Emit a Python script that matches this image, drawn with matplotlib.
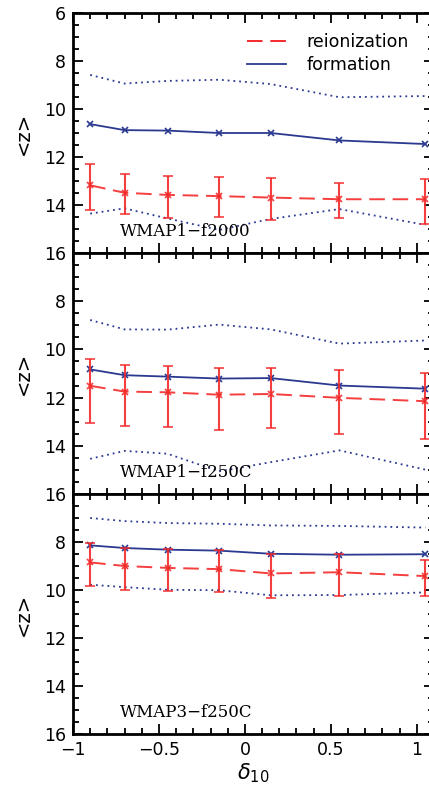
#!/usr/bin/env python3
"""Mean redshift of reionization / formation vs delta_10 for three runs."""
import matplotlib
matplotlib.use("Agg")
import matplotlib.pyplot as plt
from matplotlib.lines import Line2D
from matplotlib.ticker import MultipleLocator

# bin centres (delta_10)
delta = [-0.9, -0.7, -0.45, -0.15, 0.15, 0.55, 1.05]

run_names = ["WMAP1\u2212f2000", "WMAP1\u2212f250C", "WMAP3\u2212f250C"]

# formation <z>
form_z = [
    [10.63, 10.88, 10.90, 11.00, 11.00, 11.31, 11.46],
    [10.83, 11.07, 11.13, 11.21, 11.19, 11.50, 11.63],
    [8.14, 8.25, 8.32, 8.36, 8.49, 8.53, 8.51],
]
# reionization <z> and error-bar limits
reion_z = [
    [13.18, 13.49, 13.58, 13.63, 13.69, 13.76, 13.76],
    [11.51, 11.75, 11.78, 11.88, 11.85, 12.01, 12.15],
    [8.85, 9.00, 9.08, 9.13, 9.31, 9.26, 9.42],
]
reion_lo = [
    [12.29, 12.69, 12.79, 12.85, 12.86, 13.08, 12.90],
    [10.38, 10.65, 10.68, 10.76, 10.76, 10.86, 10.96],
    [8.06, 8.24, 8.31, 8.35, 8.49, 8.49, 8.74],
]
reion_hi = [
    [14.21, 14.38, 14.53, 14.50, 14.63, 14.53, 14.79],
    [13.04, 13.18, 13.21, 13.35, 13.25, 13.50, 13.72],
    [9.85, 9.99, 10.03, 10.08, 10.33, 10.25, 10.25],
]
# dotted envelopes of the formation distribution
env_lo = [
    [8.58, 8.94, 8.83, 8.78, 8.96, 9.51, 9.46],
    [8.78, 9.17, 9.18, 8.97, 9.17, 9.76, 9.63],
    [7.00, 7.13, 7.21, 7.24, 7.31, 7.33, 7.40],
]
env_hi = [
    [14.36, 14.14, 14.56, 15.04, 14.58, 14.17, 14.83],
    [14.54, 14.21, 14.33, 15.06, 14.68, 14.19, 14.99],
    [9.78, 9.88, 9.99, 10.01, 10.22, 10.21, 10.10],
]

RED = "#f42a2a"
BLUE = "#2b3990"
DASH = (0, (8, 4))

plt.rcParams["font.family"] = ["DejaVu Sans"]

fig = plt.figure(figsize=(4.29, 7.87), dpi=100)
W, H = 429.0, 787.0
left = 73 / W
width = 361 / W
tops = [13, 253, 494]
bots = [253, 494, 734]

for i in range(3):
    ax = fig.add_axes([left, 1 - bots[i] / H, width, (bots[i] - tops[i]) / H])
    ax.plot(delta, env_lo[i], ls=(0, (1, 2.2)), color=BLUE, lw=1.3)
    ax.plot(delta, env_hi[i], ls=(0, (1, 2.2)), color=BLUE, lw=1.3)
    ax.plot(delta, form_z[i], color=BLUE, lw=1.3, marker="x", ms=4, mew=1.2)
    yerr = [[r - l for r, l in zip(reion_z[i], reion_lo[i])],
            [h - r for r, h in zip(reion_z[i], reion_hi[i])]]
    ax.errorbar(delta, reion_z[i], yerr=yerr, color=RED, lw=1.4, ls=DASH,
                marker="x", ms=4, mew=1.2, capsize=3.5, elinewidth=1.5,
                capthick=1.3, alpha=0.9)

    ax.set_xlim(-1, 1.1)
    ax.set_ylim(16, 6)
    ax.xaxis.set_major_locator(MultipleLocator(0.5))
    ax.xaxis.set_minor_locator(MultipleLocator(0.1))
    ax.yaxis.set_major_locator(MultipleLocator(2))
    ax.yaxis.set_minor_locator(MultipleLocator(0.5))
    ax.tick_params(which="both", direction="in", top=True, right=True,
                   width=1.3, labelsize=12.5, pad=5)
    ax.tick_params(which="major", length=7)
    ax.tick_params(which="minor", length=4)
    for s in ax.spines.values():
        s.set_linewidth(2)
    if i == 0:
        ax.set_yticks([6, 8, 10, 12, 14, 16])
    else:
        ax.set_yticks([8, 10, 12, 14, 16])
    if i < 2:
        ax.tick_params(labelbottom=False)
    else:
        ax.set_xticks([-1, -0.5, 0, 0.5, 1])
        ax.set_xticklabels(["\u22121", "\u22120.5", "0", "0.5", "1"])
        ax.set_xlabel(r"$\delta_{10}$", fontsize=15, labelpad=2)
    ax.set_ylabel("<z>", fontsize=14, labelpad=8)
    ax.text(0.13, 0.07, run_names[i], transform=ax.transAxes,
            family="DejaVu Serif", fontsize=12, va="baseline")
    if i == 0:
        handles = [Line2D([], [], color=RED, lw=1.4, ls=DASH),
                   Line2D([], [], color=BLUE, lw=1.3)]
        ax.legend(handles, ["reionization", "formation"], loc="upper left",
                  bbox_to_anchor=(0.44, 0.98), frameon=False, fontsize=12.5,
                  handlelength=2.2, handletextpad=1.2, labelspacing=0.25)

fig.savefig("out.png", dpi=100)
